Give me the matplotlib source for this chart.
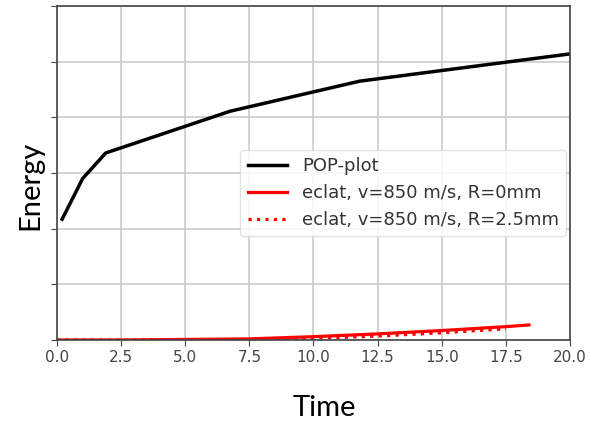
import matplotlib
matplotlib.use("Agg")
from matplotlib import pyplot as plt

# values
pop_t = [0.2, 1.0, 1.9, 6.75, 11.8, 20.0]
pop_e = [2.17, 2.9, 3.36, 4.11, 4.65, 5.14]

eclat0_t = [0.0, 2.5, 5.0, 7.5, 10.0, 12.5, 15.0, 17.5, 18.4]
eclat0_e = [0.0, 0.0, 0.01, 0.02, 0.06, 0.11, 0.17, 0.24, 0.27]

eclat25_t = [0.0, 2.5, 5.0, 7.5, 10.0, 12.5, 15.0, 17.5]
eclat25_e = [0.0, 0.0, 0.0, 0.01, 0.03, 0.07, 0.13, 0.2]

x_ticks = [0.0, 2.5, 5.0, 7.5, 10.0, 12.5, 15.0, 17.5, 20.0]
y_ticks = [0, 1, 2, 3, 4, 5, 6]

fig = plt.figure(figsize=(5.9, 4.21), dpi=100)
ax = fig.add_axes([0.0966, 0.1924, 0.8695, 0.7933])

ax.plot(pop_t, pop_e, color='black', linewidth=2.5, label='POP-plot')
ax.plot(eclat0_t, eclat0_e, color='red', linewidth=2.3, label='eclat, v=850 m/s, R=0mm')
ax.plot(eclat25_t, eclat25_e, color='red', linewidth=2.3, linestyle=':', label='eclat, v=850 m/s, R=2.5mm')

ax.set_xlim(0, 20)
ax.set_ylim(0, 6)
ax.set_xticks(x_ticks)
ax.set_xticklabels([f"{t:.1f}" for t in x_ticks])
ax.set_yticks(y_ticks)
ax.set_yticklabels([])
ax.tick_params(axis='x', labelsize=11, colors='#444444', length=4)
ax.tick_params(axis='y', colors='#444444', length=4)
ax.grid(True, color='#cccccc', linewidth=1.2)
for sp in ax.spines.values():
    sp.set_color('#444444')
    sp.set_linewidth(1.2)

leg = ax.legend(loc='upper right', bbox_to_anchor=(1.01, 0.596), fontsize=13,
                frameon=True, framealpha=0.85, edgecolor='#dddddd', handlelength=2.2)
for t in leg.get_texts():
    t.set_color('#333333')

fig.text(0.052, 0.56, "Energy", rotation=90, ha='center', va='center',
         fontsize=21, family='Lato')
fig.text(0.55, 0.032, "Time", ha='center', va='center', fontsize=21, family='Lato')

fig.savefig("out.png", dpi=100)
